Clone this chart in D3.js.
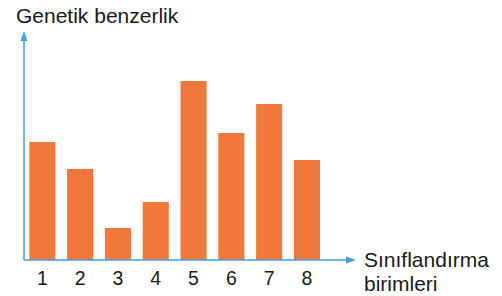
<!DOCTYPE html>
<html lang="tr">
<head>
<meta charset="UTF-8">
<title>Genetik benzerlik</title>
<script src="https://cdn.jsdelivr.net/npm/d3@7"></script>
<style>
  body { margin: 0; background: #fff; }
  text { font-family: "Liberation Sans", Arial, sans-serif; fill: #1a1a1a; }
</style>
</head>
<body>
<div id="chart"></div>
<script>
  // data
  var units = ["1", "2", "3", "4", "5", "6", "7", "8"];
  var similarity = [118, 91, 32, 58, 179, 127, 156, 100];
  var yTitle = "Genetik benzerlik";
  var xTitle = ["Sınıflandırma", "birimleri"];

  var width = 502, height = 296;
  var x0 = 24, y0 = 260;

  var svg = d3.select("#chart").append("svg")
      .attr("width", width).attr("height", height);

  var x = d3.scaleBand()
      .domain(units)
      .range([29.3, 320])
      .paddingInner(0.31)
      .paddingOuter(0);

  var y = d3.scaleLinear()
      .domain([0, 228])
      .range([y0, 32]);

  var orange = "#f2773a", blue = "#3ea3de";

  // bars
  svg.selectAll("rect.bar")
      .data(similarity)
      .enter().append("rect")
      .attr("class", "bar")
      .attr("x", function (d, i) { return x(units[i]); })
      .attr("width", x.bandwidth())
      .attr("y", function (d) { return y(d); })
      .attr("height", function (d) { return y(0) - y(d); })
      .attr("fill", orange);

  // axes
  svg.append("line")
      .attr("x1", x0).attr("x2", x0)
      .attr("y1", y0).attr("y2", 38)
      .attr("stroke", blue).attr("stroke-width", 1.5);
  svg.append("path")
      .attr("d", "M" + x0 + ",31 L" + (x0 - 3.5) + ",41 L" + (x0 + 3.5) + ",41 Z")
      .attr("fill", blue);

  svg.append("line")
      .attr("x1", x0).attr("x2", 348)
      .attr("y1", y0).attr("y2", y0)
      .attr("stroke", blue).attr("stroke-width", 1.5);
  svg.append("path")
      .attr("d", "M356," + y0 + " L346," + (y0 - 3.5) + " L346," + (y0 + 3.5) + " Z")
      .attr("fill", blue);

  // tick labels
  svg.selectAll("text.tick")
      .data(units)
      .enter().append("text")
      .attr("class", "tick")
      .attr("x", function (d) { return x(d) + x.bandwidth() / 2; })
      .attr("y", 285)
      .attr("text-anchor", "middle")
      .style("font-size", "19.5px")
      .text(function (d) { return d; });

  // titles
  svg.append("text")
      .attr("x", 16).attr("y", 23)
      .style("font-size", "21px")
      .text(yTitle);

  svg.append("text")
      .attr("x", 364).attr("y", 267)
      .style("font-size", "21px")
      .text(xTitle[0]);
  svg.append("text")
      .attr("x", 364).attr("y", 291)
      .style("font-size", "21px")
      .text(xTitle[1]);
</script>
</body>
</html>
